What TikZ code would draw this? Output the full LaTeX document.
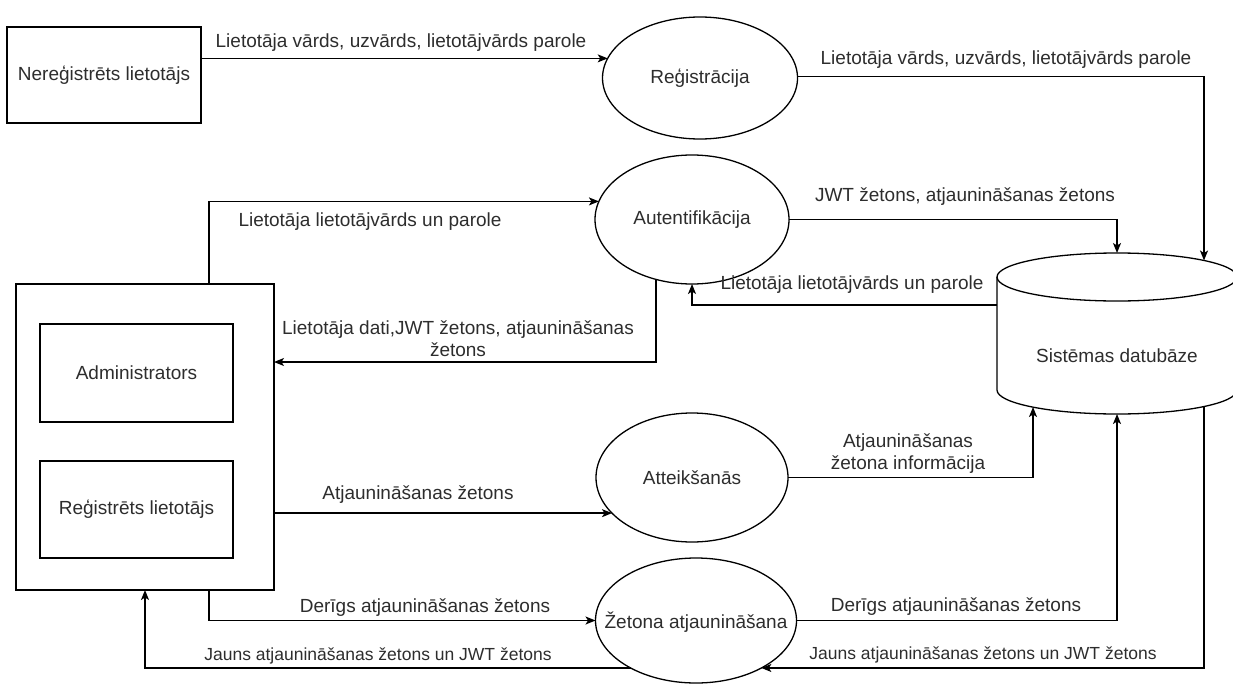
\documentclass[tikz,border=0pt]{standalone}
\usepackage{fontspec}
\setmainfont{Liberation Sans}
\usetikzlibrary{arrows.meta, shapes.geometric}
\definecolor{inkline}{RGB}{0,0,0}
\definecolor{inktext}{RGB}{45,45,45}

\begin{document}
\begin{tikzpicture}[x=1pt, y=1pt,
  every node/.style={font=\fontsize{19}{22}\selectfont, text=inktext},
  boxnode/.style={draw=inkline, line width=1.3pt, rectangle, inner sep=0pt, outer sep=0pt},
  procnode/.style={draw=inkline, line width=1.3pt, ellipse, inner sep=0pt, outer sep=0pt},
  storenode/.style={rectangle, inner sep=0pt, outer sep=0pt, minimum width=240pt, minimum height=161pt},
  edge line/.style={draw=inkline, line width=1.3pt},
  flow/.style={edge line, -{Stealth[length=10pt, width=8pt, inset=2.5pt]}},
  flowlabel/.style={inner sep=0pt, align=center},
  smalllabel/.style={flowlabel, font=\fontsize{17.5}{21}\selectfont},
]
\useasboundingbox (0,-685) rectangle (1233,0);
\clip (0,-685) rectangle (1233,0);

% external entities
\node[boxnode, minimum width=194pt, minimum height=96pt] (nereg) at (104,-75) {Nereģistrēts lietotājs};
\node[boxnode, minimum width=258pt, minimum height=306pt] (admin) at (145,-437) {};
\node[boxnode, minimum width=193pt, minimum height=98pt] (adm) at (136.5,-373) {Administrators};
\node[boxnode, minimum width=193pt, minimum height=97pt] (regusr) at (136.5,-509.5) {Reģistrēts lietotājs};

% processes
\node[procnode, minimum width=195pt, minimum height=122pt, label=center:Reģistrācija] (reg) at (700,-78) {};
\node[procnode, minimum width=194pt, minimum height=129pt, label=center:Autentifikācija] (auth) at (692,-219.5) {};
\node[procnode, minimum width=192pt, minimum height=129pt, label=center:Atteikšanās] (att) at (692,-477.5) {};
\node[procnode, minimum width=201pt, minimum height=125pt, label={[yshift=-2pt]center:Žetona atjaunināšana}] (zet) at (696,-620.5) {};

% data store (cylinder)
\node[storenode, label={[yshift=-22.5pt]center:Sistēmas datubāze}] (db) at (1117,-333.5) {};
\draw[edge line] (997,-277) -- (997,-390)
  arc[start angle=180, end angle=360, x radius=120pt, y radius=24pt] -- (1237,-277);
\draw[edge line] (1117,-277) ellipse [x radius=120pt, y radius=24pt];
\coordinate (dbTopR) at (1204,-260.5);
\coordinate (dbL) at (997,-305);
\coordinate (dbBotL) at (1033,-407);
\coordinate (dbBotR) at (1204,-406.5);

% data flows
\draw[flow] (reg.168.4 -| nereg.east) -- (reg.168.4);
\draw[flow] (reg.1.8) -| (dbTopR);
\draw[flow] ([xshift=64pt]admin.north) |- (auth.169.4);
\draw[flow] (auth.east) -| (db.north);
\draw[flow] (dbL) -| (auth.south);
\draw[flow] (auth.239.8) |- ([yshift=75pt]admin.east);
\draw[flow] (att.204.7 -| admin.east) -- (att.204.7);
\draw[flow] (att.east) -| (dbBotL);
\draw[flow] ([xshift=64pt]admin.south) |- (zet.west);
\draw[flow] (zet.east) -| (db.south);
\draw[flow] (dbBotR) |- (zet.324);
\draw[flow] (zet.216) -| (admin.south);

% flow labels
\node[flowlabel] (l1) at (401,-43) {Lietotāja vārds, uzvārds, lietotājvārds parole};
\node[flowlabel] (l2) at (1006,-60) {Lietotāja vārds, uzvārds, lietotājvārds parole};
\node[flowlabel] (l3) at (370,-222) {Lietotāja lietotājvārds un parole};
\node[flowlabel] (l4) at (965,-197) {JWT žetons, atjaunināšanas žetons};
\node[flowlabel] (l5) at (852,-285) {Lietotāja lietotājvārds un parole};
\node[flowlabel] (l6) at (458,-339) {Lietotāja dati,JWT žetons, atjaunināšanas\\žetons};
\node[flowlabel] (l7) at (418,-495) {Atjaunināšanas žetons};
\node[flowlabel] (l8) at (908,-454) {Atjaunināšanas\\žetona informācija};
\node[flowlabel] (l9) at (425,-608) {Derīgs atjaunināšanas žetons};
\node[flowlabel] (l10) at (956,-607) {Derīgs atjaunināšanas žetons};
\node[smalllabel] (l11) at (378,-656) {Jauns atjaunināšanas žetons un JWT žetons};
\node[smalllabel] (l12) at (983,-655) {Jauns atjaunināšanas žetons un JWT žetons};
\end{tikzpicture}
\end{document}
